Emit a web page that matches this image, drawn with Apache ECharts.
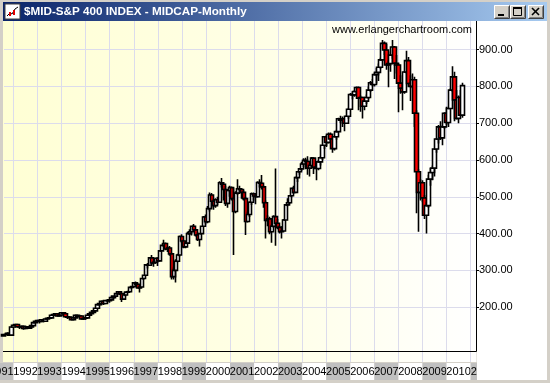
<!DOCTYPE html>
<html><head><meta charset="utf-8">
<script src="https://cdn.jsdelivr.net/npm/echarts@6/dist/echarts.min.js"></script>
<style>html,body{margin:0;padding:0;background:#D4D0C8;overflow:hidden}#c{width:550px;height:383px}</style>
</head><body><div id="c"></div>
<script>
// Monthly candles, Aug 1991 .. Sep 2010
const opens = [
 122,126,126,129,124,
 146,151,153,147,146,148,142,147,143,146,150,158,
 162,164,161,166,162,168,170,171,178,180,182,176,
 179,185,182,174,173,172,166,171,178,175,176,168,
 170,171,178,182,186,190,197,207,210,216,210,218,
 218,220,226,230,237,242,237,222,233,241,242,254,
 256,266,262,252,255,278,287,315,314,334,320,322,
 333,326,353,368,373,358,361,345,283,300,325,342,
 392,380,364,374,400,405,420,410,396,384,400,420,
 445,432,468,505,488,476,492,485,538,534,520,482,
 517,525,495,460,510,522,520,512,495,433,452,485,
 508,502,500,539,537,527,484,436,440,405,420,446,
 428,417,405,407,437,478,484,503,523,512,552,568,
 576,589,599,596,578,585,605,580,577,595,606,640,
 663,648,670,657,631,663,677,712,708,712,700,719,
 738,778,777,786,797,768,770,746,760,770,790,810,
 805,832,838,852,872,917,899,858,862,885,907,863,
 858,809,795,785,839,870,808,800,818,727,568,512,
 538,497,450,476,548,566,578,630,657,690,660,690,
 727,702,740,790,826,763,713,770,722
];
const highs = [
 128,129,132,131,147,
 153,155,154,149,150,149,148,148,147,151,159,163,
 166,166,168,167,169,171,173,179,181,184,183,181,
 186,187,183,176,175,174,172,179,180,178,177,171,
 172,179,184,187,191,199,208,212,218,218,219,221,
 222,229,232,238,244,243,238,234,242,245,255,258,
 268,270,266,256,279,289,316,320,336,342,326,334,
 336,355,370,383,376,365,366,348,308,330,345,395,
 398,383,378,405,412,422,426,412,403,402,422,448,
 452,475,512,510,495,496,500,542,551,540,530,520,
 530,528,525,515,548,530,524,518,500,460,488,512,
 512,510,542,548,559,530,490,450,446,425,450,577,
 440,422,420,440,480,496,505,525,530,555,570,578,
 595,605,606,610,590,608,607,582,600,610,642,665,
 668,675,675,660,665,682,715,720,718,715,722,742,
 782,786,790,800,800,775,772,765,778,800,815,820,
 838,850,862,878,926,922,915,870,895,926,910,885,
 862,830,810,842,897,880,830,835,826,735,575,548,
 545,505,485,560,578,585,632,660,695,705,695,730,
 745,745,795,855,840,790,775,790,810
];
const lows = [
 120,124,124,123,122,
 144,148,145,141,144,139,141,141,142,142,149,156,
 160,156,160,159,161,166,168,170,176,178,174,175,
 178,180,172,168,168,164,165,170,173,171,166,165,
 166,170,176,180,184,189,196,204,209,206,208,213,
 212,219,222,228,235,233,214,220,230,238,240,250,
 254,258,250,240,254,274,286,305,312,315,310,318,
 312,325,352,364,355,350,340,275,275,267,322,338,
 375,360,360,372,396,395,408,392,380,365,398,418,
 425,428,460,468,465,470,478,483,525,490,475,470,
 500,490,342,455,505,510,495,490,396,430,445,478,
 490,480,498,525,520,470,387,420,398,375,415,367,
 412,400,387,405,435,474,480,498,508,510,540,560,
 570,580,575,560,555,580,562,545,572,585,600,630,
 635,645,650,620,626,655,675,700,690,678,698,712,
 736,765,772,778,735,731,713,735,752,765,785,800,
 800,808,815,848,870,885,845,798,840,875,820,835,
 730,780,735,780,835,800,760,795,690,455,405,490,
 485,440,400,470,530,545,555,620,645,655,640,685,
 695,690,738,785,705,710,700,720,715
];
const closes = [
 126,126,129,124,146,
 151,153,147,146,148,142,147,143,146,150,158,162,
 164,161,166,162,168,170,171,178,180,182,176,179,
 185,182,174,173,172,166,171,178,175,176,168,170,
 171,178,182,186,190,197,207,210,216,210,218,218,
 220,226,230,237,242,237,222,233,241,242,254,256,
 266,262,252,255,278,287,315,314,334,320,322,333,
 326,353,368,373,358,361,345,283,300,325,342,392,
 380,364,374,400,405,420,410,396,384,400,420,445,
 432,468,505,488,476,492,485,538,534,520,482,517,
 525,495,460,510,522,520,512,495,433,452,485,508,
 502,500,539,537,527,484,436,440,405,420,446,428,
 417,405,407,437,478,484,503,523,512,552,568,576,
 589,599,596,578,585,605,580,577,595,606,640,663,
 648,670,657,631,663,677,712,708,712,700,719,738,
 778,777,786,797,768,770,746,760,770,790,810,805,
 832,838,852,872,917,899,858,862,885,907,863,858,
 809,795,785,839,870,808,800,818,727,568,512,538,
 497,450,476,548,566,578,630,657,690,660,690,727,
 702,740,790,826,763,713,770,722,802.13
];
const yearLabels = ['1991','1992','1993','1994','1995','1996','1997','1998','1999','2000',
 '2001','2002','2003','2004','2005','2006','2007','2008','2009','2010','2011'];
const priceMin = 200, priceMax = 900, priceStep = 100;
const titleText = '$MID-S&P 400 INDEX - MIDCAP-Monthly';
const siteText = 'www.erlangerchartroom.com';

// month categories (Aug 1991 onwards, padded to the right edge)
const months = [];
for (let i = 0; i < 236; i++) {
  const m = (7 + i) % 12, y = 1991 + Math.floor((7 + i) / 12);
  months.push(y + '-' + String(m + 1).padStart(2, '0'));
}
const candles = opens.map((o, i) => [o, closes[i], lows[i], highs[i]]);
const lastClose = closes[closes.length - 1];

const STEP = 24.06 / 12;           // px per month
const G0L = 3.475, G0W = STEP * (months.length - 1);
const FONT = '"Liberation Sans", Arial, sans-serif';
const grid = '#DCDCEC';

const chart = echarts.init(document.getElementById('c'), null, {renderer: 'canvas'});
const LG = echarts.graphic.LinearGradient;

function button(x, y, kind) {
  const els = [
    {type:'rect', shape:{x:x, y:y, width:16, height:14}, style:{fill:'#D4D0C8', stroke:null}, z:60},
    {type:'polyline', shape:{points:[[x+0.5,y+13.5],[x+0.5,y+0.5],[x+15.5,y+0.5]]}, style:{stroke:'#FFFFFF', lineWidth:1, fill:null}, z:61},
    {type:'polyline', shape:{points:[[x+0.5,y+13.5],[x+15.5,y+13.5],[x+15.5,y+0.5]]}, style:{stroke:'#404040', lineWidth:1, fill:null}, z:61},
    {type:'polyline', shape:{points:[[x+1.5,y+12.5],[x+14.5,y+12.5],[x+14.5,y+1.5]]}, style:{stroke:'#808080', lineWidth:1, fill:null}, z:61}
  ];
  if (kind === 'min') els.push({type:'rect', shape:{x:x+4, y:y+9, width:6, height:2}, style:{fill:'#000'}, z:62});
  if (kind === 'max') {
    els.push({type:'rect', shape:{x:x+3.5, y:y+2.5, width:8, height:8}, style:{fill:null, stroke:'#000', lineWidth:1}, z:62});
    els.push({type:'rect', shape:{x:x+3, y:y+2, width:9, height:2}, style:{fill:'#000'}, z:62});
  }
  if (kind === 'close') {
    els.push({type:'line', shape:{x1:x+4, y1:y+3, x2:x+11, y2:y+10}, style:{stroke:'#000', lineWidth:1.6}, z:62});
    els.push({type:'line', shape:{x1:x+11, y1:y+3, x2:x+4, y2:y+10}, style:{stroke:'#000', lineWidth:1.6}, z:62});
  }
  return els;
}

const graphics = [
  // plot background
  {type:'rect', shape:{x:3, y:21, width:473.5, height:341}, style:{fill:new LG(0,0,1,0,[{offset:0,color:'#FFFFD4'},{offset:0.55,color:'#FFFFE6'},{offset:1,color:'#FFFFFF'}])}, z:-10, silent:true},
  // right panel
  {type:'rect', shape:{x:477, y:21, width:70, height:359}, style:{fill:'#FFFFFF'}, z:-10, silent:true},
  // cover for year strip beyond plot
  {type:'rect', shape:{x:477, y:361, width:70, height:19}, style:{fill:'#FFFFFF'}, z:100, silent:true},
  // frame lines
  {type:'line', shape:{x1:476.5, y1:21, x2:476.5, y2:351.5}, style:{stroke:'#000', lineWidth:1}, z:100},
  {type:'line', shape:{x1:3, y1:351.5, x2:476.5, y2:351.5}, style:{stroke:'#000', lineWidth:1}, z:100},
  // title bar
  {type:'rect', shape:{x:3, y:2, width:544, height:19}, style:{fill:new LG(0,0,1,0,[{offset:0,color:'#0A246A'},{offset:1,color:'#A6CAF0'}])}, z:50},
  {type:'text', style:{text:titleText, x:24, y:12, fill:'#FFFFFF', font:'bold 11.7px ' + FONT, verticalAlign:'middle'}, z:55},
  // icon
  {type:'rect', shape:{x:5, y:4, width:15, height:15}, style:{fill:'#FFFFFF', stroke:'#404040', lineWidth:1}, z:55},
  {type:'polyline', shape:{points:[[7,16],[10,13],[12,14],[15,9],[18,7]]}, style:{stroke:'#000', lineWidth:1, fill:null}, z:56},
  {type:'rect', shape:{x:13, y:10, width:2, height:5}, style:{fill:'#E00000'}, z:56},
  {type:'rect', shape:{x:9, y:12, width:2, height:4}, style:{fill:'#E00000'}, z:56},
  // site text
  {type:'text', style:{text:siteText, x:472, y:30, fill:'#000', font:'11px ' + FONT, align:'right', verticalAlign:'middle'}, z:50}
].concat(button(494, 5, 'min'), button(510, 5, 'max'), button(528, 5, 'close'));

const option = {
  animation: false,
  backgroundColor: '#D4D0C8',
  grid: [
    {left: G0L, top: 21, width: G0W, height: 341, outerBoundsMode: 'none', containLabel: false},
    {left: 4, top: 49.6, width: 472, height: 257.6, outerBoundsMode: 'none', containLabel: false},
    {left: 13.5 - 24.06, top: 362, width: 24.06 * yearLabels.length, height: 1, outerBoundsMode: 'none', containLabel: false}
  ],
  xAxis: [
    {gridIndex: 0, type: 'category', data: months, boundaryGap: false,
     axisLine: {show: false, onZero: false}, axisTick: {show: false}, axisLabel: {show: false},
     splitLine: {show: true, interval: (idx) => idx >= 5 && (idx - 5) % 12 === 0, lineStyle: {color: grid, width: 1}}},
    {gridIndex: 1, type: 'value', show: false, min: 1, max: 2, axisLine: {onZero: false}},
    {gridIndex: 2, type: 'category', data: yearLabels, boundaryGap: true,
     axisLine: {show: false, onZero: false}, axisTick: {show: false}, splitLine: {show: false},
     axisLabel: {interval: 0, margin: 0, verticalAlign: 'top',
       formatter: (v, i) => (i % 2 === 0 ? '{g|' + v + '}' : '{w|' + v + '}'),
       rich: {
         g: {backgroundColor: '#C0C0C0', width: 24.06, height: 17, lineHeight: 17, align: 'center', fontSize: 11, fontFamily: FONT, color: '#000'},
         w: {backgroundColor: '#FFFFFF', width: 24.06, height: 17, lineHeight: 17, align: 'center', fontSize: 11, fontFamily: FONT, color: '#000'}
       }}}
  ],
  yAxis: [
    {gridIndex: 0, type: 'value', show: false, min: 900 - (362 - 49.6) / 0.368, max: 900 + (49.6 - 21) / 0.368, axisLine: {onZero: false}},
    {gridIndex: 1, type: 'value', position: 'right', min: priceMin, max: priceMax, interval: priceStep,
     axisLine: {show: false, onZero: false},
     axisTick: {show: true, length: 3, lineStyle: {color: '#000'}},
     axisLabel: {margin: 3, color: '#000', fontSize: 11, fontFamily: FONT, formatter: (v) => v.toFixed(2)},
     splitLine: {show: true, lineStyle: {color: grid, width: 1}}},
    {gridIndex: 2, type: 'value', show: false, axisLine: {onZero: false}}
  ],
  series: [{
    type: 'candlestick', xAxisIndex: 0, yAxisIndex: 0, data: candles, barWidth: 4,
    itemStyle: {color: '#FFFFFF', color0: '#FF0000', borderColor: '#000000', borderColor0: '#000000', borderColorDoji: '#000000', borderWidth: 1.6},
    emphasis: {disabled: true},
    markLine: {
      silent: true, symbol: ['none', 'none'], animation: false,
      lineStyle: {opacity: 0},
      data: [{yAxis: lastClose}],
      label: {show: true, position: 'end', distance: 2, formatter: lastClose.toFixed(2),
        backgroundColor: '#000', color: '#FFFFFF', fontSize: 11, fontFamily: FONT, padding: [1, 32, 0, 3]}
    }
  }],
  graphic: graphics
};
chart.setOption(option);
</script></body></html>
